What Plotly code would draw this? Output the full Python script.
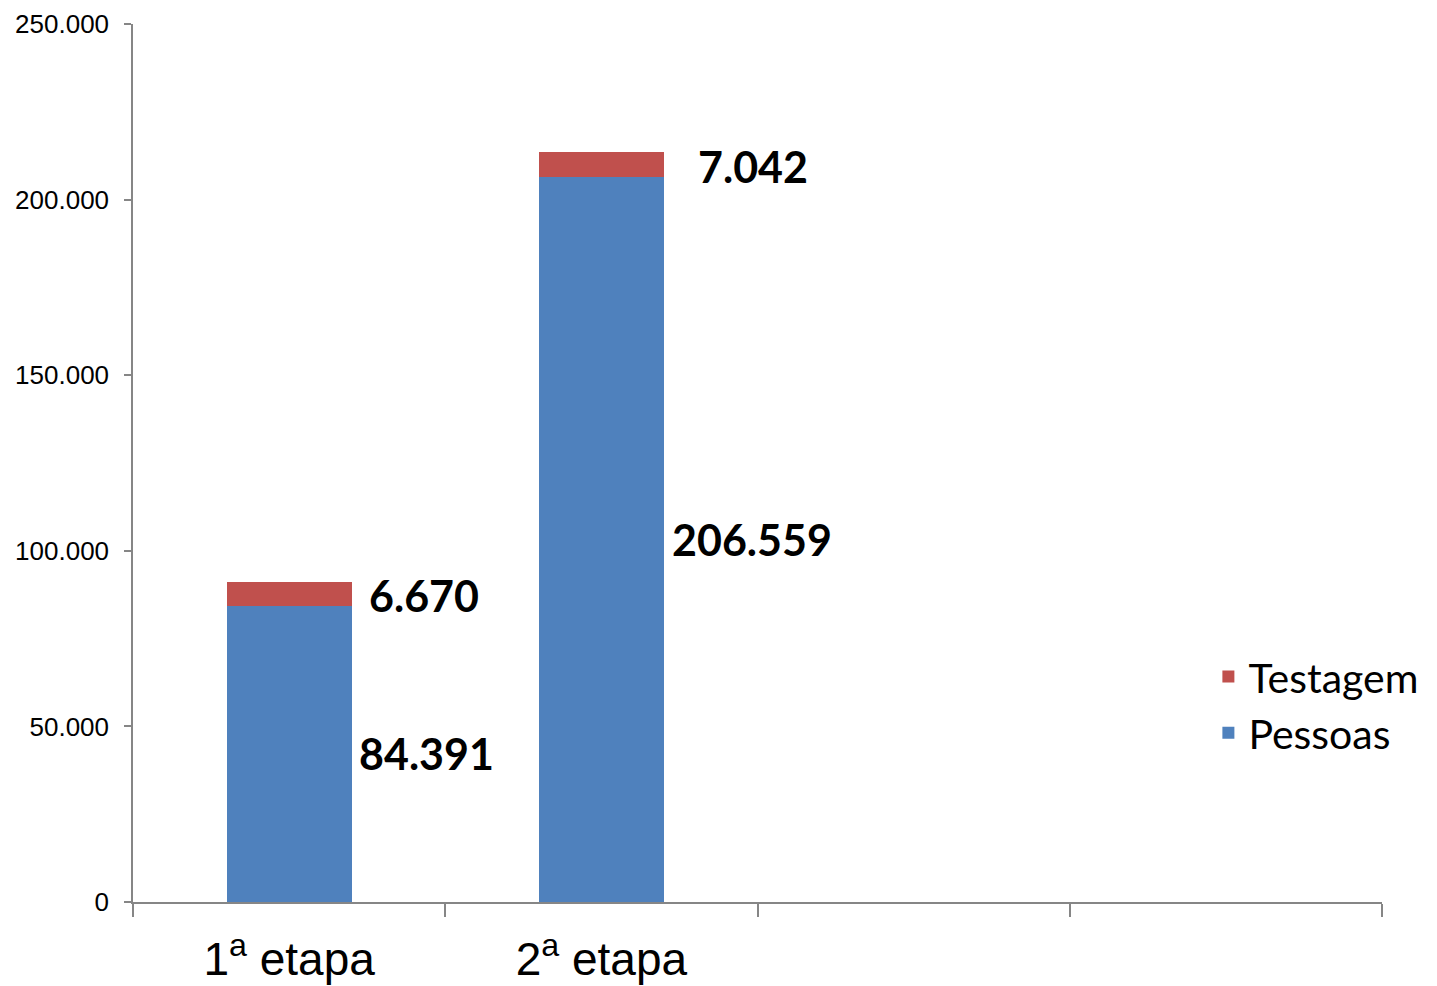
import plotly.graph_objects as go

BLUE = "#4F81BD"
RED = "#C0504D"
AXIS_GRAY = "#868686"

categories = ["1ª etapa", "2ª etapa"]
tick_text = ["1<sup>a</sup> etapa", "2<sup>a</sup> etapa"]
n_slots = 4
pessoas = [84391, 206559]
testagem = [6670, 7042]
y_ticks = [0, 50000, 100000, 150000, 200000, 250000]

# horizontal offset (px) of the value labels, right of each bar
pessoas_shift = [137, 151]
testagem_shift = [135, 152]

x_pos = list(range(len(categories)))

fig = go.Figure()
fig.add_trace(go.Bar(x=x_pos, y=pessoas, name="Pessoas", marker_color=BLUE,
                     marker_line_width=0, width=0.4))
fig.add_trace(go.Bar(x=x_pos, y=testagem, name="Testagem", marker_color=RED,
                     marker_line_width=0, width=0.4))

label_font = {"family": "Lato", "size": 43, "color": "#000000", "weight": "bold"}
for x, p, t, dp, dt in zip(x_pos, pessoas, testagem, pessoas_shift, testagem_shift):
    fig.add_annotation(x=x, y=p / 2, text=f"{p:,}".replace(",", "."), showarrow=False,
                       xshift=dp, font=label_font)
    fig.add_annotation(x=x, y=p + t / 2, text=f"{t:,}".replace(",", "."), showarrow=False,
                       xshift=dt, yshift=-2, font=label_font)

fig.update_layout(
    width=1429,
    height=978,
    barmode="stack",
    separators=",.",
    margin={"l": 125, "r": 55, "t": 16, "b": 84},
    paper_bgcolor="white",
    plot_bgcolor="white",
    font={"family": "Liberation Sans, Arial", "color": "#000000"},
    legend={
        "x": 0.861, "y": 0.2245, "xanchor": "left", "yanchor": "middle",
        "traceorder": "reversed",
        "font": {"family": "Lato", "size": 41, "color": "#000000"},
        "bgcolor": "rgba(0,0,0,0)",
    },
)
fig.update_xaxes(
    range=[-0.5, n_slots - 0.5], tickvals=x_pos, ticktext=tick_text,
    ticks="", ticklabelstandoff=16, automargin=False,
    minor={"tick0": 0.5, "dtick": 1, "ticks": "outside", "ticklen": 13,
           "tickcolor": AXIS_GRAY, "tickwidth": 1.5, "showgrid": False},
    showline=True, linecolor=AXIS_GRAY, linewidth=1.5,
    showgrid=False, zeroline=False,
    tickfont={"family": "Liberation Sans, Arial", "size": 46, "color": "#000000"},
)
fig.update_yaxes(
    range=[0, 250000], tickvals=y_ticks, tickformat=",d",
    ticks="outside", ticklen=7, tickcolor=AXIS_GRAY, tickwidth=1.5,
    showline=True, linecolor=AXIS_GRAY, linewidth=1.5, automargin=False,
    showgrid=False, zeroline=False, ticklabelstandoff=10,
    tickfont={"family": "Liberation Sans, Arial", "size": 26, "color": "#000000"},
)

fig.write_html("out.html")
